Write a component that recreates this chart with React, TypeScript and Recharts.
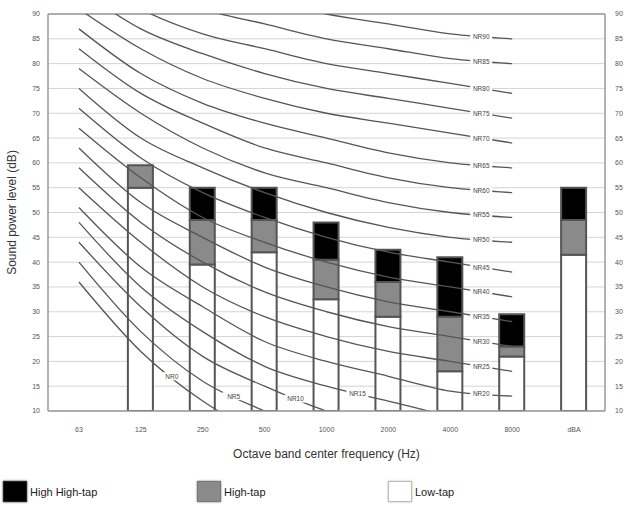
import {
  ComposedChart, Bar, Line, XAxis, YAxis, CartesianGrid, ReferenceLine
} from 'recharts';

const bands = ['63', '125', '250', '500', '1000', '2000', '4000', '8000', 'dBA'];

// top of each stacked segment, dB
const lowTap = [null, 55, 39.5, 42, 32.5, 29, 18, 21, 41.5];
const highTap = [null, 59.5, 48.5, 48.5, 40.5, 36, 29, 23, 48.5];
const highHighTap = [null, 59.5, 55, 55, 48, 42.5, 41, 29.5, 55];

const yTicks = [10, 15, 20, 25, 30, 35, 40, 45, 50, 55, 60, 65, 70, 75, 80, 85, 90];

// noise rating curves, 63 Hz .. 8000 Hz
const nrLevels = [0, 5, 10, 15, 20, 25, 30, 35, 40, 45, 50, 55, 60, 65, 70, 75, 80, 85, 90];
const nrTable = [
  [36, 22, 12, 5, 0, -4, -6, -8],
  [40, 26, 16, 10, 5, 1, -1, -3],
  [44, 31, 21, 15, 10, 7, 4, 2],
  [48, 35, 26, 19, 15, 12, 9, 7],
  [51, 39, 31, 24, 20, 17, 14, 13],
  [55, 44, 35, 29, 25, 22, 20, 18],
  [59, 48, 40, 34, 30, 27, 25, 23],
  [63, 52, 45, 39, 35, 32, 30, 28],
  [67, 57, 49, 44, 40, 37, 35, 33],
  [71, 61, 54, 49, 45, 42, 40, 38],
  [75, 65, 59, 54, 50, 47, 45, 44],
  [79, 70, 63, 58, 55, 52, 50, 49],
  [83, 74, 68, 63, 60, 57, 55, 54],
  [87, 78, 72, 68, 65, 62, 60, 59],
  [91, 83, 77, 73, 70, 68, 66, 64],
  [95, 87, 82, 78, 75, 73, 71, 69],
  [99, 91, 86, 83, 80, 78, 76, 74],
  [103, 96, 91, 88, 85, 83, 81, 80],
  [107, 100, 96, 93, 90, 88, 86, 85],
];
// band index after which the curve name is written
const nrLabelAt = [1, 2, 3, 4, 6, 6, 6, 6, 6, 6, 6, 6, 6, 6, 6, 6, 6, 6, 6];

const W = 631;
const H = 470;
const M = { top: 14, right: 0, left: 0, bottom: 0 };
const LEFT_W = 48;
const RIGHT_W = 26;
const X_H = 59;
const plotW = W - LEFT_W - RIGHT_W;
const plotH = H - M.top - X_H;
const pxPerDb = plotH / 80;
const halfBand = plotW / bands.length / 2;

const data = bands.map((band, i) => {
  const row: any = { band };
  const lo = lowTap[i];
  const hi = highTap[i];
  const hh = highHighTap[i];
  row.low = lo;
  row.high = lo != null && hi != null && hi > lo ? hi - lo : null;
  row.highHigh = hi != null && hh != null && hh > hi ? hh - hi : null;
  nrLevels.forEach((lv, k) => {
    row['nr' + lv] = i < 8 ? nrTable[k][i] : null;
  });
  return row;
});

const makeDot = (k: number) => (props: any) => {
  const { cx, cy, index } = props;
  if (index !== nrLabelAt[k] || cx == null || cy == null) return <g key={'d' + index} />;
  const v0 = nrTable[k][index];
  const v1 = nrTable[k][index + 1];
  const x = cx + halfBand;
  const y = cy + ((v0 - v1) / 2) * pxPerDb;
  return (
    <g key={'d' + index}>
      <rect x={x - 11} y={y - 4} width={22} height={8} fill="#fff" />
      <text x={x} y={y} textAnchor="middle" dominantBaseline="central" fontSize={6.5} fill="#444">
        {'NR' + nrLevels[k]}
      </text>
    </g>
  );
};

const tickStyle = { fontSize: 7, fill: '#555' };

const legendItems = [
  { name: 'High High-tap', color: '#000', border: '#222', left: 3 },
  { name: 'High-tap', color: '#8a8a8a', border: '#777', left: 197 },
  { name: 'Low-tap', color: '#fff', border: '#bbb', left: 388 },
];

export default function App() {
  return (
    <div style={{ position: 'absolute', left: 0, top: 0, width: W, height: 506, background: '#fff', fontFamily: 'Arial, "Liberation Sans", sans-serif' }}>
      <ComposedChart width={W} height={H} data={data} margin={M} barSize={25}>
        <CartesianGrid vertical={false} stroke="#d4d4d4" yAxisId="left" />
        <XAxis
          dataKey="band"
          height={X_H}
          tick={tickStyle}
          tickLine={false}
          tickMargin={10}
          axisLine={{ stroke: '#999', strokeWidth: 1.5 }}
          label={{ value: 'Octave band center frequency (Hz)', position: 'insideBottom', offset: 12, fontSize: 12, fill: '#333' }}
        />
        <YAxis
          yAxisId="left"
          width={LEFT_W}
          domain={[10, 90]}
          ticks={yTicks}
          allowDataOverflow
          tick={tickStyle}
          tickLine={false}
          axisLine={{ stroke: '#999', strokeWidth: 1.5 }}
          label={{ value: 'Sound power level (dB)', angle: -90, position: 'insideLeft', offset: 12, fontSize: 12, fill: '#333', style: { textAnchor: 'middle' } }}
        />
        <YAxis
          yAxisId="right"
          orientation="right"
          width={RIGHT_W}
          domain={[10, 90]}
          ticks={yTicks}
          allowDataOverflow
          tick={tickStyle}
          tickLine={false}
          tickMargin={4}
          axisLine={{ stroke: '#999', strokeWidth: 1.5 }}
        />
        <ReferenceLine yAxisId="left" y={90} stroke="#999" strokeWidth={1.5} />
        <Bar yAxisId="left" dataKey="low" stackId="s" fill="#fff" stroke="#555" strokeWidth={2} isAnimationActive={false} />
        <Bar yAxisId="left" dataKey="high" stackId="s" fill="#8a8a8a" stroke="#555" strokeWidth={2} isAnimationActive={false} />
        <Bar yAxisId="left" dataKey="highHigh" stackId="s" fill="#000" stroke="#555" strokeWidth={2} isAnimationActive={false} />
        {nrLevels.map((lv, k) => (
          <Line
            key={lv}
            yAxisId="left"
            dataKey={'nr' + lv}
            type="monotone"
            stroke="#555"
            strokeWidth={1.3}
            dot={makeDot(k)}
            activeDot={false}
            isAnimationActive={false}
          />
        ))}
      </ComposedChart>
      {legendItems.map((it) => (
        <div key={it.name} style={{ position: 'absolute', top: 481, left: it.left, display: 'flex', alignItems: 'center' }}>
          <div style={{ width: 24, height: 21, background: it.color, boxShadow: `0 0 2px ${it.border}`, border: `1px solid ${it.border}`, boxSizing: 'border-box' }} />
          <span style={{ fontSize: 11, color: '#222', marginLeft: 3 }}>{it.name}</span>
        </div>
      ))}
    </div>
  );
}
